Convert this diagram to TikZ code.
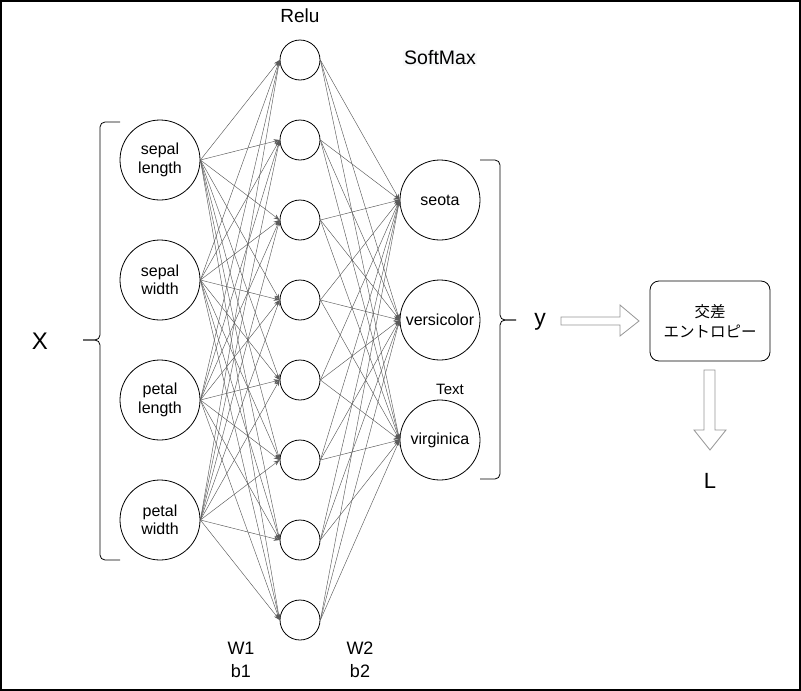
\documentclass[tikz,border=0pt]{standalone}
\usepackage{fontspec}
\setmainfont{Liberation Sans}
\newfontfamily\cjk{Noto Sans CJK JP}
\usetikzlibrary{arrows.meta}
\begin{document}
\begin{tikzpicture}[x=1pt,y=-1pt,
  inp/.style={circle,draw,line width=0.8pt,minimum size=80pt,inner sep=0pt,align=center,font=\fontsize{16}{18.5}\selectfont},
  hid/.style={circle,draw,line width=0.8pt,minimum size=40pt,inner sep=0pt},
  edge/.style={draw={rgb,255:red,90;green,90;blue,90},line width=0.45pt,-{Stealth[length=6pt,width=4.5pt]}},
  lbl/.style={inner sep=0pt,font=\fontsize{19}{21}\selectfont},
  brace/.style={draw,line width=0.8pt,rounded corners=5pt},
  blockarrow/.style={draw={rgb,255:red,150;green,150;blue,150},line width=0.8pt,fill=white}]
\useasboundingbox (0,0) rectangle (801,691);
\draw[line width=1.6pt] (0.8,0.8) rectangle (800.2,690.2);
% input nodes
\node[inp] (i1) at (160,160) {sepal\\length};
\node[inp] (i2) at (160,280) {sepal\\width};
\node[inp] (i3) at (160,400) {petal\\length};
\node[inp] (i4) at (160,520) {petal\\width};
% hidden nodes
\foreach \k/\yy in {1/60,2/140,3/220,4/300,5/380,6/460,7/540,8/620}
  \node[hid] (h\k) at (300,\yy) {};
% output nodes
\node[inp] (o1) at (440,200) {seota};
\node[inp] (o2) at (440,320) {versicolor};
\node[inp] (o3) at (440,440) {virginica};
% edges
\foreach \i in {1,...,4}
  \foreach \k in {1,...,8}
    \draw[edge] (i\i.east) -- (h\k.west);
\foreach \k in {1,...,8}
  \foreach \j in {1,...,3}
    \draw[edge] (h\k.east) -- (o\j.west);
% labels
\node[lbl] (relu) at (300,16) {Relu};
\node[lbl,fill={rgb,255:red,248;green,249;blue,250},inner sep=1pt,font=\fontsize{19.5}{21}\selectfont] (softmax) at (440,58) {SoftMax};
\node[lbl,font=\fontsize{15}{17}\selectfont] (text) at (450,389) {Text};
\node[lbl,align=center,font=\fontsize{18}{23}\selectfont] (wb1) at (241,660) {W1\\b1};
\node[lbl,align=center,font=\fontsize{18}{23}\selectfont] (wb2) at (360,660) {W2\\b2};
% braces
\draw[brace] (120,122) -- (100,122) -- (100,340) -- (83,340);
\draw[brace] (83,340) -- (100,340) -- (100,560) -- (120,560);
\node[lbl,font=\fontsize{24}{26}\selectfont] (X) at (40,341) {X};
\draw[brace] (480,160) -- (500,160) -- (500,320) -- (516,320);
\draw[brace] (516,320) -- (500,320) -- (500,479) -- (480,479);
\node[lbl,font=\fontsize{23}{25}\selectfont] (y) at (540,322) {y};
% block arrow right
\draw[blockarrow] (561,317) -- (620,317) -- (620,305) -- (639,321) -- (620,336) -- (620,325) -- (561,325) -- cycle;
% loss box
\node[draw,line width=0.8pt,rounded corners=9pt,minimum width=120pt,minimum height=80pt,align=center,font=\cjk\fontsize{15.5}{19.5}\selectfont] (loss) at (710,321) {交差\\エントロピー};
% block arrow down
\draw[blockarrow] (704,370) -- (715,370) -- (715,430) -- (726,430) -- (710,450) -- (694,430) -- (704,430) -- cycle;
\node[lbl,font=\fontsize{22}{24}\selectfont] (L) at (710,481) {L};
\end{tikzpicture}
\end{document}
